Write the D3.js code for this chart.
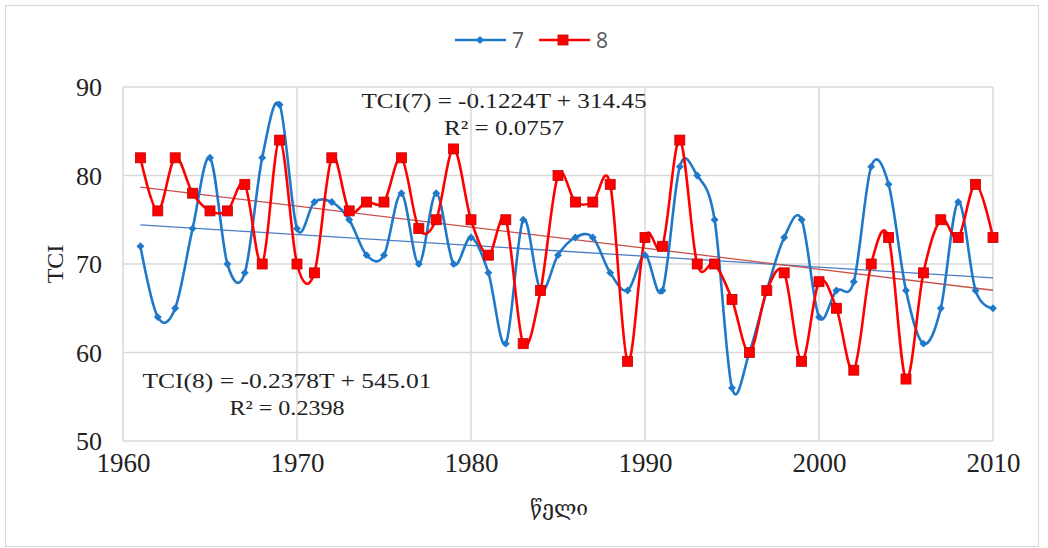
<!DOCTYPE html>
<html><head><meta charset="utf-8">
<script src="https://cdn.jsdelivr.net/npm/d3@7"></script>
<style>body{margin:0;background:#fff}svg{display:block}</style>
</head><body>
<svg id="c" width="1048" height="548"></svg>
<script>
const years = d3.range(1961, 2011);
const seriesNames = ["7", "8"];
const tci7 = [72,64,65,74,82,70,69,82,88,74,77,77,75,71,71,78,70,78,70,73,69,61,75,67,71,73,73,69,67,71,67,81,80,75,56,60,67,73,75,64,67,68,81,79,67,61,65,77,67,65];
const tci8 = [82,76,82,78,76,76,79,70,84,70,69,82,76,77,77,82,74,75,83,75,71,75,61,67,80,77,77,79,59,73,72,84,70,70,66,60,67,69,59,68,65,58,70,73,57,69,75,73,79,73];
const trendSlope = [-0.1224, -0.2378];
const trendIntercept = [314.45, 545.01];
const eqLabels = ["TCI(7) = -0.1224T + 314.45", "TCI(8) = -0.2378T + 545.01"];
const r2Labels = ["R² = 0.0757", "R² = 0.2398"];
const xTicks = [1960,1970,1980,1990,2000,2010];
const yTicks = [50,60,70,80,90];
const yTitle = "TCI";
const xTitle = "წელი";

const svg = d3.select("#c");
const L=123, R=993, T=87, B=441;
const x = d3.scaleLinear().domain([1960,2010]).range([L,R]);
const y = d3.scaleLinear().domain([50,90]).range([B,T]);
const serif = "'Liberation Serif','Times New Roman',serif";

svg.append("rect").attr("x",5.5).attr("y",5.5).attr("width",1033).attr("height",541)
  .attr("fill","#fff").attr("stroke","#d9d9d9").attr("stroke-width",1.2);

// grid
svg.append("g").selectAll("line").data(yTicks).join("line")
  .attr("x1",L).attr("x2",R).attr("y1",d=>y(d)).attr("y2",d=>y(d))
  .attr("stroke","#d9d9d9").attr("stroke-width",1.5);
svg.append("g").selectAll("line").data(xTicks).join("line")
  .attr("y1",T).attr("y2",B).attr("x1",d=>x(d)).attr("x2",d=>x(d))
  .attr("stroke","#d9d9d9").attr("stroke-width",1.5);

// axes labels
const yAxis = d3.axisLeft(y).tickValues(yTicks).tickSize(0).tickPadding(21);
const gy = svg.append("g").attr("transform",`translate(${L},0)`).call(yAxis);
gy.select(".domain").remove();
gy.selectAll("text").attr("font-family",serif).attr("font-size",26).attr("fill","#222").attr("dy","0.34em");
const xAxis = d3.axisBottom(x).tickValues(xTicks).tickFormat(d3.format("d")).tickSize(0).tickPadding(14);
const gx = svg.append("g").attr("transform",`translate(0,${B})`).call(xAxis);
gx.select(".domain").remove();
gx.selectAll("text").attr("font-family",serif).attr("font-size",27).attr("fill","#222").attr("dy","0.62em");

svg.append("text").attr("transform","translate(63,264) rotate(-90)").attr("text-anchor","middle")
  .attr("font-family",serif).attr("font-size",24).attr("fill","#222").text(yTitle);
svg.append("text").attr("x",559).attr("y",515).attr("text-anchor","middle")
  .attr("font-family","'DejaVu Serif','DejaVu Sans',serif").attr("font-size",21).attr("fill","#222").text(xTitle);

const colors = ["#1f78c8","#ff0000"];
const trendColors = ["#4a7ec4","#c8504a"];
const data = [tci7, tci8];

// trend lines
data.forEach((s,i)=>{
  const f = t => trendSlope[i]*t + trendIntercept[i];
  svg.append("line").attr("x1",x(1961)).attr("x2",x(2010))
    .attr("y1",y(f(1961))).attr("y2",y(f(2010)))
    .attr("stroke",trendColors[i]).attr("stroke-width",1.3);
});

const line = d3.line().x((d,i)=>x(years[i])).y(d=>y(d)).curve(d3.curveCardinal.tension(0));
[0,1].forEach(i=>{
  svg.append("path").attr("d",line(data[i])).attr("fill","none")
    .attr("stroke",colors[i]).attr("stroke-width",2.6);
});
// markers
svg.append("g").selectAll("path").data(tci7).join("path")
  .attr("d",d3.symbol(d3.symbolDiamond2,40))
  .attr("transform",(d,i)=>`translate(${x(years[i])},${y(d)})`)
  .attr("fill",colors[0]);
svg.append("g").selectAll("rect").data(tci8).join("rect")
  .attr("x",(d,i)=>x(years[i])-5).attr("y",d=>y(d)-5).attr("width",10).attr("height",10)
  .attr("fill",colors[1]).attr("stroke","#c00000").attr("stroke-width",0.8);

// equations
const eqPos = [[504,108],[287,388]];
const eqW = [285,289], r2W = [120,115];
[0,1].forEach(i=>{
  svg.append("text").attr("x",eqPos[i][0]).attr("y",eqPos[i][1]).attr("text-anchor","middle")
    .attr("font-family",serif).attr("font-size",22).attr("fill","#222")
    .attr("textLength",eqW[i]).attr("lengthAdjust","spacingAndGlyphs").text(eqLabels[i]);
  svg.append("text").attr("x",eqPos[i][0]).attr("y",eqPos[i][1]+27).attr("text-anchor","middle")
    .attr("font-family",serif).attr("font-size",22).attr("fill","#222")
    .attr("textLength",r2W[i]).attr("lengthAdjust","spacingAndGlyphs").text(r2Labels[i]);
});

// legend
const leg = svg.append("g");
const lx = [455,539];
[0,1].forEach(i=>{
  leg.append("line").attr("x1",lx[i]).attr("x2",lx[i]+51).attr("y1",40).attr("y2",40)
    .attr("stroke",colors[i]).attr("stroke-width",2.6);
  if(i===0){
    leg.append("path").attr("d",d3.symbol(d3.symbolDiamond2,40)).attr("transform",`translate(${lx[i]+25},40)`).attr("fill",colors[0]);
  } else {
    leg.append("rect").attr("x",lx[i]+19).attr("y",35).attr("width",10).attr("height",10)
      .attr("fill",colors[1]).attr("stroke","#c00000").attr("stroke-width",0.8);
  }
  leg.append("text").attr("x",lx[i]+57).attr("y",48).attr("font-family","'Open Sans','Liberation Sans',sans-serif")
    .attr("font-size",21).attr("fill","#595959").text(seriesNames[i]);
});
</script>
</body></html>
